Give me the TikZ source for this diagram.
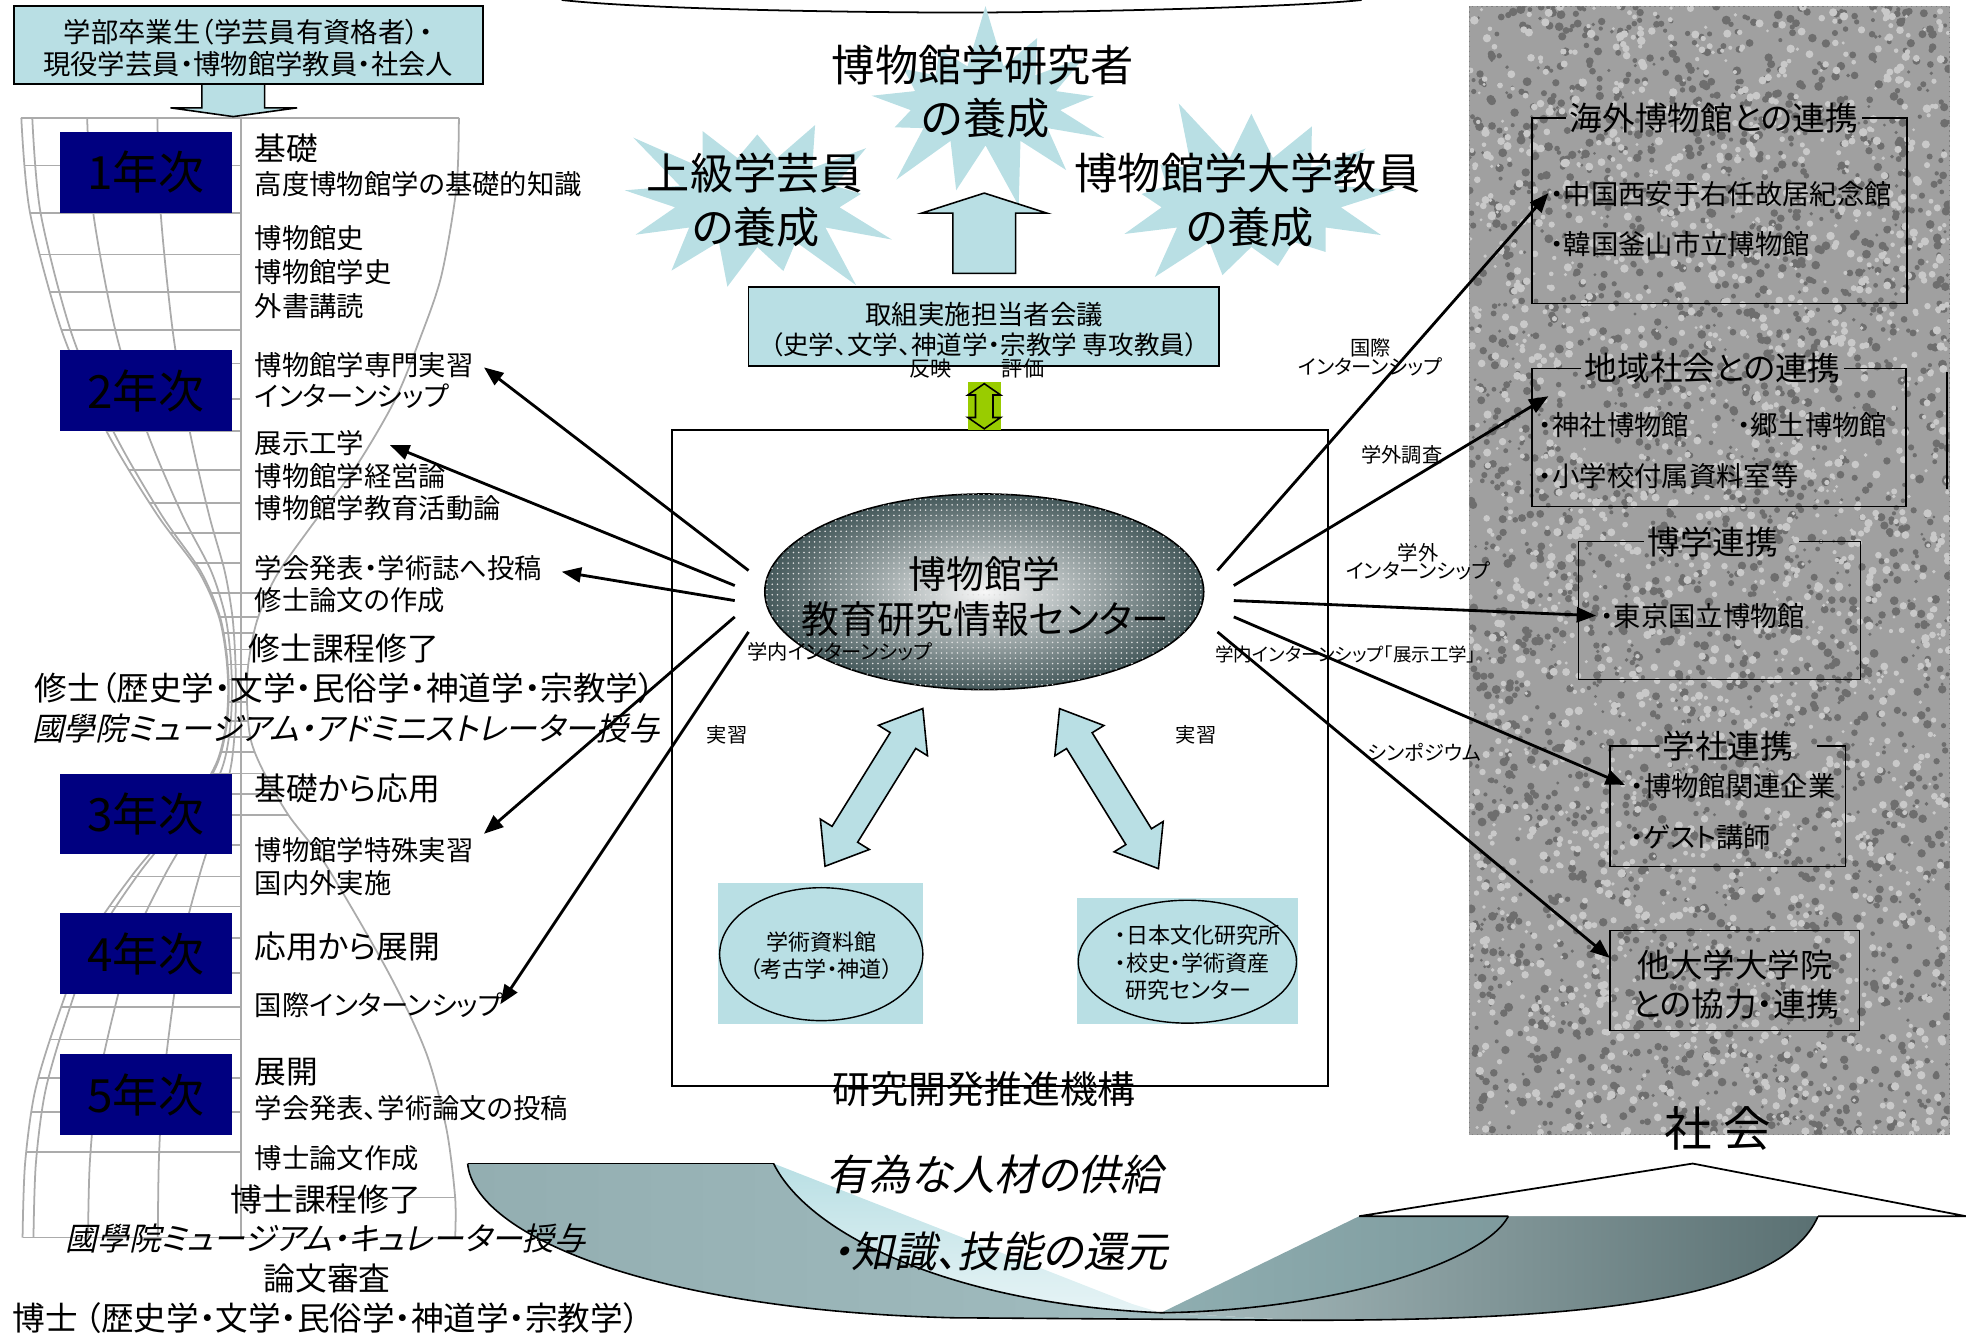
\documentclass[tikz,border=0pt]{standalone}
\usepackage{fontspec}
\setmainfont{Noto Sans CJK JP}[RawFeature=+palt]
\newfontfamily\cjkit{Noto Sans CJK JP}[RawFeature=+palt,FakeSlant=0.22]
\usetikzlibrary{shapes.symbols,shapes.geometric,arrows.meta,patterns}
\definecolor{lb}{HTML}{B9DFE4}
\definecolor{navyb}{HTML}{000080}
\definecolor{grn}{HTML}{99CC00}
\definecolor{hgc}{HTML}{ABABAB}
\definecolor{slate}{HTML}{44585A}
\definecolor{pbase}{HTML}{A0A0A0}
\definecolor{pdark}{HTML}{6E6E6E}
\definecolor{plight}{HTML}{C9C9C9}
\definecolor{ribA}{HTML}{93AEB1}
\definecolor{ribB}{HTML}{A3BEC1}
\definecolor{rdA}{HTML}{A9BDBF}
\definecolor{rdB}{HTML}{5A7072}
\definecolor{rlA}{HTML}{8FAEB1}
\definecolor{rlB}{HTML}{7E9A9D}
\tikzset{
  fs/.style={inner sep=0pt, font=\fontsize{#1}{#1}\selectfont},
  fsi/.style={inner sep=0pt, font=\cjkit\fontsize{#1}{#1}\selectfont},
  lt/.style={fs=15.5, anchor=west},
  hd/.style={fs=18, anchor=west},
  lab/.style={fs=11.5},
  yr/.style={fill=navyb, minimum width=3.425cm, minimum height=1.6cm, inner sep=0pt, font=\fontsize{26}{26}\selectfont},
  conn/.style={line width=1.6pt, -{Triangle[length=11pt,width=8.5pt]}},
  hgl/.style={draw=hgc, line width=1pt},
  bl/.style={line width=0.9pt},
  itm/.style={inner sep=0pt, anchor=west, font=\fontsize{15.5}{15.5}\selectfont},
  ttl/.style={inner sep=2pt, font=\fontsize{18.5}{18.5}\selectfont},
  sb/.style={starburst, fill=lb, draw=none, inner sep=0pt},
  blk/.style={draw=black, line width=0.9pt, fill=lb},
}
\begin{document}
\begin{tikzpicture}[x=0.025cm,y=-0.025cm]
\useasboundingbox (0,0) rectangle (1568,1065);

% ---------------- society panel ----------------
\fill[pbase] (1172,5) rectangle (1555,905);
\begin{scope}
\clip (1172,5) rectangle (1555,905);
\pgfmathsetseed{4242}
\foreach \i in {1,...,2600}{\pgfmathsetmacro\xa{1172+383*rnd}\pgfmathsetmacro\ya{5+900*rnd}\pgfmathsetmacro\ra{1.2+2.4*rnd}\fill[pdark] (\xa,\ya) circle[radius=\ra];}
\foreach \i in {1,...,2200}{\pgfmathsetmacro\xa{1172+383*rnd}\pgfmathsetmacro\ya{5+900*rnd}\pgfmathsetmacro\ra{1.2+2.2*rnd}\fill[plight] (\xa,\ya) circle[radius=\ra];}
\end{scope}
\draw[gray, dotted, line width=0.8pt] (1172,5) rectangle (1555,905);
\draw[bl] (1553,297) -- (1553,390);

% boxes in panel
\node[ttl] (t1) at (1367,94) {海外博物館との連携};
\draw[bl] (t1.west) -- (1222,94) -- (1222,242) -- (1521,242) -- (1521,94) -- (t1.east);
\node[itm] (i1) at (1236,155) {・中国西安于右任故居紀念館};
\node[itm] (i2) at (1236,195) {・韓国釜山市立博物館};
\node[ttl] (t2) at (1366,294) {地域社会との連携};
\draw[bl] (t2.west) -- (1222,294) -- (1222,404) -- (1520,404) -- (1520,294) -- (t2.east);
\node[itm] (i3) at (1227,339) {・神社博物館};
\node[itm] (i4) at (1385,339) {・郷土博物館};
\node[itm] (i5) at (1227,380) {・小学校付属資料室等};
\node[ttl] (t3) at (1366,432) {博学連携};
\draw[bl] (t3.west) -- (1259,432) -- (1259,542) -- (1484,542) -- (1484,432) -- ([xshift=0.35cm]t3.east);
\node[itm] (i6) at (1276,491) {・東京国立博物館};
\node[ttl] (t4) at (1378,595) {学社連携};
\draw[bl] (t4.west) -- (1284,595) -- (1284,691) -- (1472,691) -- (1472,595) -- ([xshift=0.4cm]t4.east);
\node[itm] (i7) at (1300,627) {・博物館関連企業};
\node[itm] (i8) at (1300,668) {・ゲスト講師};
\draw[bl] (1284,742) rectangle (1483,822);
\node[fs=18.5] (o1) at (1384,770) {他大学大学院};
\node[fs=18.5] (o2) at (1384,801) {との協力・連携};
\coordinate (oth) at (1284,764);
\node[fs=27] (soc) at (1370,900) {社 会};

% ---------------- top curve ----------------
\draw[line width=1pt] (448,0) .. controls (520,8) and (700,10) .. (766,10) .. controls (850,10) and (1030,6) .. (1086,0);

% ---------------- stars ----------------
\node[sb, minimum width=5.6cm, minimum height=4.2cm, starburst points=13, starburst point height=1.3cm, random starburst=7] (stT) at (786,84) {};
\node[sb, minimum width=6.1cm, minimum height=4.6cm, starburst points=13, starburst point height=1.4cm, random starburst=3] (stL) at (604,161) {};
\node[sb, minimum width=6.4cm, minimum height=4.6cm, starburst points=13, starburst point height=1.4cm, random starburst=5] (stR) at (998,161) {};
\node[fs=24.5] (s1a) at (784,52) {博物館学研究者};
\node[fs=24.5] (s1b) at (786,94) {の養成};
\node[fs=24.5] (s2a) at (602,138) {上級学芸員};
\node[fs=24.5] (s2b) at (603,181) {の養成};
\node[fs=24.5] (s3a) at (995,138) {博物館学大学教員};
\node[fs=24.5] (s3b) at (997,181) {の養成};

% up arrow
\draw[blk] (760,218) -- (760,170) -- (735,170) -- (785,154) -- (835,170) -- (810,170) -- (810,218) -- cycle;

% committee box
\node[blk, minimum width=9.375cm, minimum height=1.575cm, inner sep=0pt] (cmt) at (784.5,260.5) {};
\node[fs=15] (c1) at (785,251) {取組実施担当者会議};
\node[fs=14.5] (c2) at (785,275) {（史学、文学、神道学・宗教学 専攻教員）};
\node[fs=12] (r1) at (742,294) {反映};
\node[fs=12] (r2) at (816,294) {評価};

% ---------------- research box ----------------
\draw[line width=0.9pt] (536,343) rectangle (1059,866);
\fill[grn] (772,305) rectangle (798,343);
\draw[line width=0.9pt] (785,306) -- (798,315) -- (792,315) -- (792,333) -- (798,333) -- (785,342) -- (772,333) -- (778,333) -- (778,315) -- (772,315) -- cycle;
\node[fs=21.5] (rd) at (785,869) {研究開発推進機構};

% central ellipse
\node[ellipse, draw=black, line width=0.9pt, minimum width=8.75cm, minimum height=3.9cm, inner color=white!94!gray, outer color=slate,
  postaction={pattern=dots, pattern color=white!75!gray}] (ctr) at (785,472) {};
\node[fs=21.5] (ct1) at (785,458) {博物館学};
\node[fs=21.5] (ct2) at (786,494) {教育研究情報センター};

% lower ellipses
\fill[lb] (573,704) rectangle (736,817);
\node[ellipse, draw=black, line width=0.8pt, fill=lb, minimum width=4.05cm, minimum height=2.65cm] (e1) at (655,761) {};
\node[fs=12.5] (e1a) at (655,751) {学術資料館};
\node[fs=12.5] (e1b) at (655,773) {（考古学・神道）};
\fill[lb] (859,716) rectangle (1035,817);
\node[ellipse, draw=black, line width=0.8pt, fill=lb, minimum width=4.35cm, minimum height=2.45cm] (e2) at (947,767) {};
\node[fs=12.5, anchor=west] (e2a) at (889,746) {・日本文化研究所};
\node[fs=12.5, anchor=west] (e2b) at (889,768) {・校史・学術資産};
\node[fs=12.5] (e2c) at (948,790) {研究センター};

% block double arrows
\begin{scope}[shift={(697,628)}, rotate=58.2]
\draw[blk] (-74,0) -- (-44,23) -- (-44,12) -- (44,12) -- (44,23) -- (74,0) -- (44,-23) -- (44,-12) -- (-44,-12) -- (-44,-23) -- cycle;
\end{scope}
\begin{scope}[shift={(884.5,629)}, rotate=-58.3]
\draw[blk] (-75,0) -- (-45,23) -- (-45,12) -- (45,12) -- (45,23) -- (75,0) -- (45,-23) -- (45,-12) -- (-45,-12) -- (-45,-23) -- cycle;
\end{scope}
\node[lab] (j1) at (580,586) {実習};
\node[lab] (j2) at (954,586) {実習};
\node[lab, anchor=west] (g1) at (596,520) {学内インターンシップ};
\node[fs=10.5, anchor=west] (g2) at (969,522) {学内インターンシップ「展示工学」};
\node[lab, align=center] (k1) at (1093,285) {国際\\[-1pt]インターンシップ};
\node[lab] (k2) at (1118,363) {学外調査};
\node[lab, align=center] (k3) at (1131,448) {学外\\[-1pt]インターンシップ};
\node[lab] (k4) at (1136,600) {シンポジウム};

% ---------------- hourglass ----------------
\begin{scope}
\clip plot[smooth] coordinates {(17,94) (24,170) (50,266) (85,344) (125,410) (158,455) (174,490) (180,520) (182,550) (180,580) (172,610) (150,645) (107,696) (70,750) (46,811) (28,870) (20,928) (18,987)} -- (192,987) -- (192,94) -- cycle;
\foreach \yy in {132,170,203,233,263,290,318,344,375,401,425,449,473,492,505,518,530,542,560,575,588,600,617,633,650,674,699,723,748,776,803,829,860,887,919}
  \draw[hgl] (0,\yy) -- (192,\yy);
\foreach \f in {0.05,0.3,0.62}
  \draw[hgl] plot[smooth] coordinates {({17+\f*(192-17)},94) ({24+\f*(192-24)},170) ({50+\f*(192-50)},266) ({85+\f*(192-85)},344) ({125+\f*(192-125)},410) ({158+\f*(192-158)},455) ({174+\f*(192-174)},490) ({180+\f*(192-180)},520) ({182+\f*(192-182)},550) ({180+\f*(192-180)},580) ({172+\f*(192-172)},610) ({150+\f*(192-150)},645) ({107+\f*(192-107)},696) ({70+\f*(192-70)},750) ({46+\f*(192-46)},811) ({28+\f*(192-28)},870) ({20+\f*(192-20)},928) ({18+\f*(192-18)},987)};
\end{scope}
\begin{scope}
\clip (192,94) -- plot[smooth] coordinates {(366,94) (364,150) (352,220) (335,270) (315,319) (284,372) (248,420) (220,460) (205,495) (198,530) (197,560) (200,590) (210,615) (230,650) (260,690) (310,776) (340,840) (356,900) (363,955) (363,987)} -- (192,987) -- cycle;
\foreach \yy in {473,492,505,518,530,542,560,575,588,600,617,633,650,955}
  \draw[hgl] (190,\yy) -- (400,\yy);
\end{scope}
\draw[hgl] plot[smooth] coordinates {(17,94) (24,170) (50,266) (85,344) (125,410) (158,455) (174,490) (180,520) (182,550) (180,580) (172,610) (150,645) (107,696) (70,750) (46,811) (28,870) (20,928) (18,987)};
\draw[hgl] plot[smooth] coordinates {(366,94) (364,150) (352,220) (335,270) (315,319) (284,372) (248,420) (220,460) (205,495) (198,530) (197,560) (200,590) (210,615) (230,650) (260,690) (310,776) (340,840) (356,900) (363,955) (363,987)};
\draw[hgl] (192,94) -- (192,987);
\draw[hgl] (17,94) -- (366,94);
\draw[hgl] (18,987) -- (363,987);

% ---------------- top box ----------------
\draw[blk] (161,67) -- (161,86) -- (136,86) -- (186,93) -- (237,86) -- (211,86) -- (211,67);
\node[blk, minimum width=9.35cm, minimum height=1.55cm, inner sep=0pt] (top) at (198,36) {};
\node[fs=15.5] (tp1) at (198,26) {学部卒業生（学芸員有資格者）・};
\node[fs=15.5] (tp2) at (198,51) {現役学芸員・博物館学教員・社会人};

% year boxes
\node[yr] (y1) at (116.5,137.5) {1年次};
\node[yr] (y2) at (116.5,311.5) {2年次};
\node[yr] (y3) at (116.5,649) {3年次};
\node[yr] (y4) at (116.5,760.5) {4年次};
\node[yr] (y5) at (116.5,873) {5年次};

% left texts
\node[hd] (n1) at (203,118) {基礎};
\node[lt] (n2) at (203,147) {高度博物館学の基礎的知識};
\node[lt] (n3) at (203,190) {博物館史};
\node[lt] (n4) at (203,217) {博物館学史};
\node[lt] (n5) at (203,244) {外書講読};
\node[lt] (n6) at (203,291) {博物館学専門実習};
\node[lt] (n7) at (203,316) {インターンシップ};
\node[lt] (n8) at (203,353) {展示工学};
\node[lt] (n9) at (203,380) {博物館学経営論};
\node[lt] (n10) at (203,405) {博物館学教育活動論};
\node[lt] (n11) at (203,453) {学会発表・学術誌へ投稿};
\node[lt] (n12) at (203,479) {修士論文の作成};
\node[fs=18, anchor=west] (n13) at (198,517) {修士課程修了};
\node[fs=18.5] (n14) at (275,549) {修士（歴史学・文学・民俗学・神道学・宗教学）};
\node[fsi=18] (n15) at (276,581) {國學院ミュージアム・アドミニストレーター授与};
\node[hd] (n16) at (203,629) {基礎から応用};
\node[lt] (n17) at (203,678) {博物館学特殊実習};
\node[lt] (n18) at (203,704) {国内外実施};
\node[hd] (n19) at (203,755) {応用から展開};
\node[lt] (n20) at (203,802) {国際インターンシップ};
\node[hd] (n21) at (203,855) {展開};
\node[lt] (n22) at (203,884) {学会発表、学術論文の投稿};
\node[lt] (n23) at (203,924) {博士論文作成};

% ---------------- bottom ribbon arrow ----------------
\shade[top color=lb, bottom color=lb!35!white] (617,928) -- (903,1040) -- (926,1047) .. controls (760,1040) and (645,985) .. (617,928) -- cycle;
\shade[left color=ribA, right color=ribB] (373,928) -- (617,928) .. controls (645,985) and (760,1040) .. (926,1047) -- (1038,1053) -- (760,1051) .. controls (520,1045) and (378,985) .. (373,928) -- cycle;
\shade[left color=rdA, right color=rdB] (926,1047) .. controls (1070,1045) and (1185,1005) .. (1203,970) -- (1450,970) .. controls (1420,1040) and (1250,1053) .. (1038,1053) -- cycle;
\shade[left color=rlA, right color=rlB] (1084,970) -- (1203,970) .. controls (1185,1005) and (1070,1045) .. (926,1047) -- cycle;
\draw[line width=1pt] (373,928) -- (617,928);
\draw[line width=0.9pt] (617,928) .. controls (645,985) and (760,1040) .. (926,1047);
\draw[line width=0.9pt] (373,928) .. controls (378,985) and (520,1045) .. (760,1051) -- (1038,1053);
\draw[line width=0.9pt] (926,1047) .. controls (1070,1045) and (1185,1005) .. (1203,970);
\draw[line width=0.9pt] (1450,970) .. controls (1420,1040) and (1250,1053) .. (1038,1053);
\fill[white] (1084,970) -- (1350,928) -- (1568,970) -- cycle;
\draw[line width=1pt] (1203,970) -- (1084,970) -- (1350,928) -- (1568,970) -- (1450,970);
\node[fsi=24] (b1) at (793,937) {有為な人材の供給};
\node[fsi=24] (b2) at (797,998) {・知識、技能の還元};

\node[fs=18] (n24) at (260,957) {博士課程修了};
\node[fsi=18] (n25) at (260,988) {國學院ミュージアム・キュレーター授与};
\node[fs=18] (n26) at (261,1020) {論文審査};
\node[fs=18.5] (n27) at (260,1051) {博士 （歴史学・文学・民俗学・神道学・宗教学）};

% ---------------- connectors ----------------
\coordinate (sL1) at (597,455); \coordinate (eL1) at (386,293);
\coordinate (sL2) at (586,467); \coordinate (eL2) at (311,355);
\coordinate (sL3) at (586,479); \coordinate (eL3) at (448,456);
\coordinate (sL4) at (586,492); \coordinate (eL4) at (386,665);
\coordinate (sL5) at (597,504); \coordinate (eL5) at (399,801);
\coordinate (sR1) at (971,455); \coordinate (eR1) at (1235,154);
\coordinate (sR2) at (984,467); \coordinate (eR2) at (1235,316);
\coordinate (sR3) at (984,479); \coordinate (eR3) at (1273,491);
\coordinate (sR4) at (984,492); \coordinate (eR4) at (1296,626);
\coordinate (sR5) at (971,504);
\foreach \s/\e in {sL1/eL1,sL2/eL2,sL3/eL3,sL4/eL4,sL5/eL5,sR1/eR1,sR2/eR2,sR3/eR3,sR4/eR4,sR5/oth}
  \draw[conn] (\s) -- (\e);
\end{tikzpicture}
\end{document}
